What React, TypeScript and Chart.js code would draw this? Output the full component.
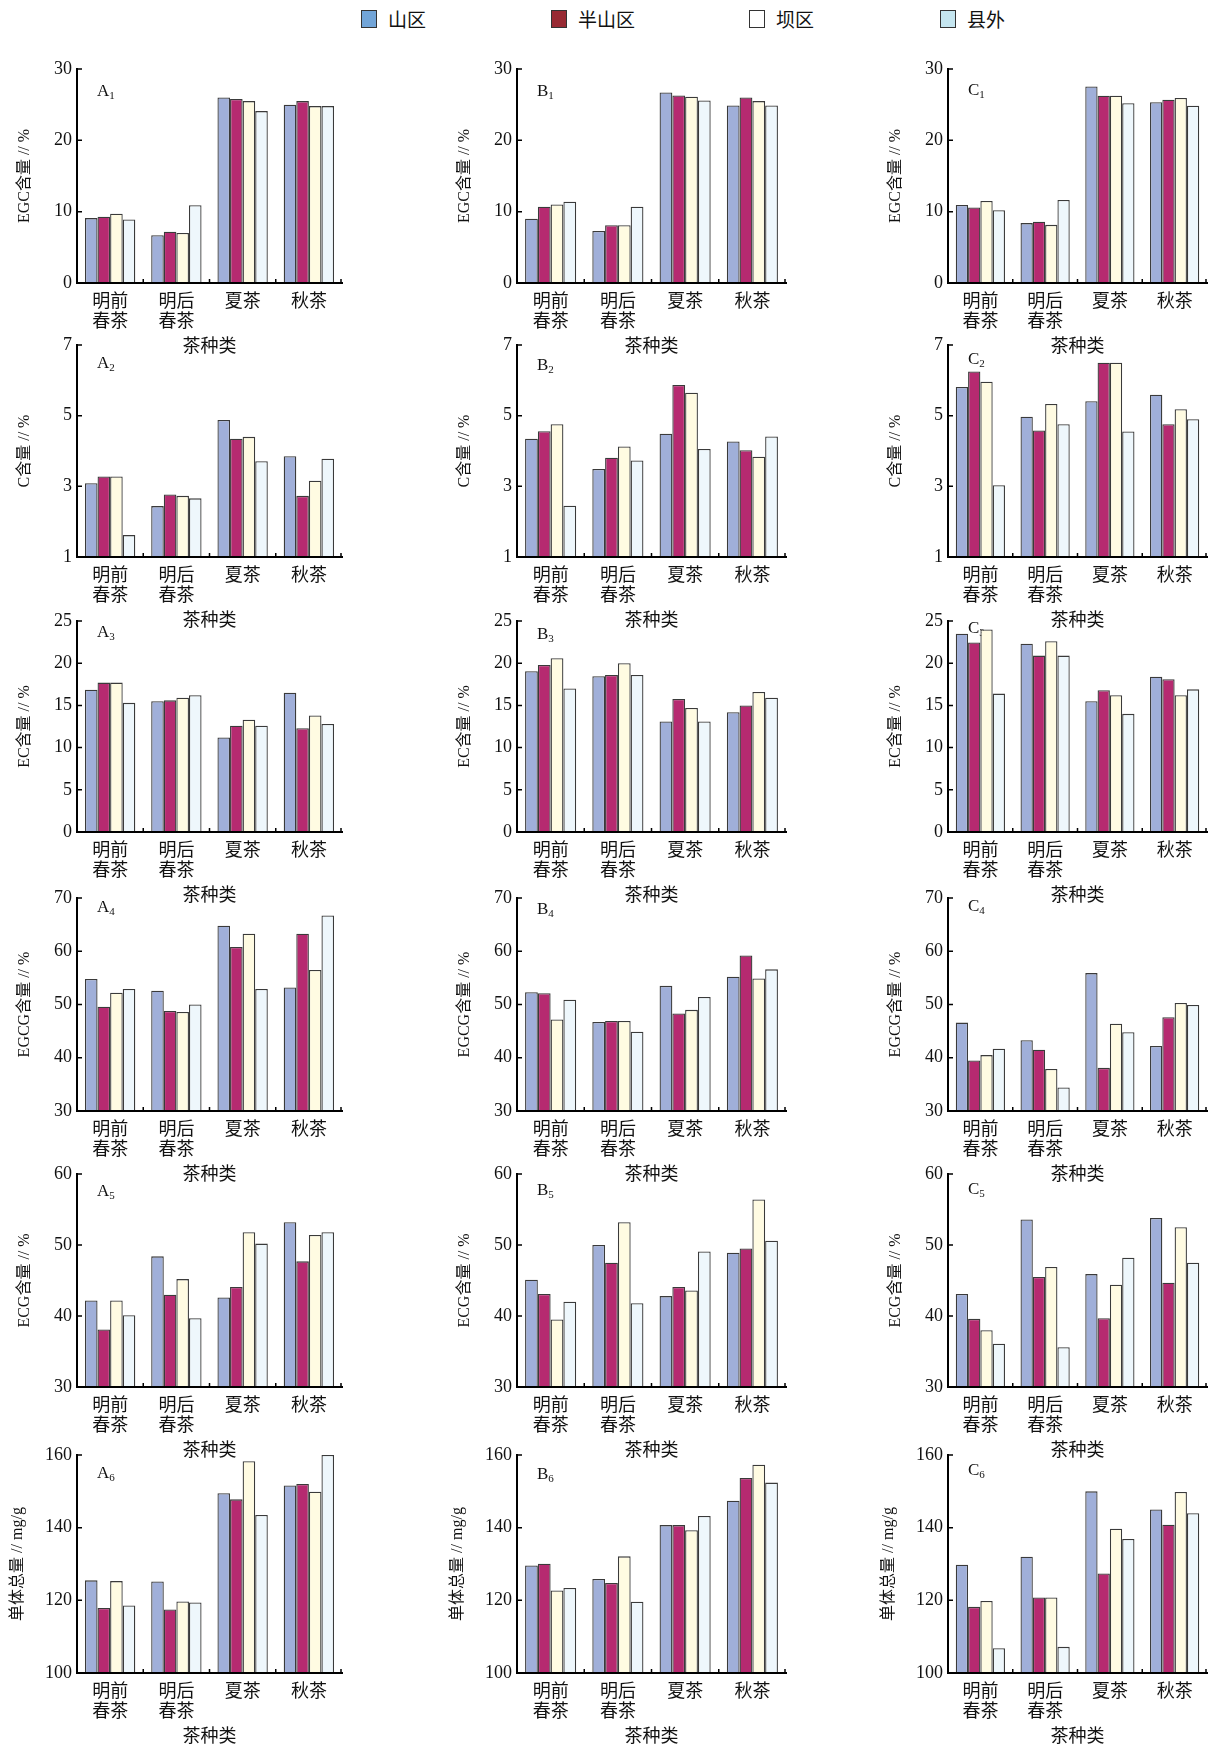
import React, { useEffect, useRef } from "react";
import { Chart, registerables } from "chart.js";

Chart.register(...registerables);

// ---------------- data ----------------
const categories: (string | string[])[] = [["明前", "春茶"], ["明后", "春茶"], "夏茶", "秋茶"];
const seriesNames = ["山区", "半山区", "坝区", "县外"];
const xAxisTitle = "茶种类";
const yTitles = ["EGC含量 // %", "C含量 // %", "EC含量 // %", "EGCG含量 // %", "ECG含量 // %", "单体总量 // mg/g"];
const yMins = [0, 1, 0, 30, 30, 100];
const yMaxs = [30, 7, 25, 70, 60, 160];
const ySteps = [10, 2, 5, 10, 10, 20];
const panelLetters = ["A", "B", "C"];

// each panel: rows = 山区, 半山区, 坝区, 县外 ; columns = categories
const A1 = [[9.1, 6.7, 26.0, 25.0], [9.3, 7.2, 25.8, 25.5], [9.7, 7.0, 25.5, 24.8], [8.9, 10.9, 24.1, 24.8]];
const A2 = [[3.09, 2.44, 4.88, 3.85], [3.28, 2.77, 4.35, 2.73], [3.28, 2.73, 4.4, 3.16], [1.62, 2.66, 3.71, 3.78]];
const A3 = [[16.85, 15.5, 11.2, 16.5], [17.7, 15.6, 12.6, 12.3], [17.7, 15.9, 13.3, 13.8], [15.3, 16.2, 12.6, 12.8]];
const A4 = [[54.8, 52.6, 64.8, 53.2], [49.6, 48.8, 60.8, 63.3], [52.2, 48.6, 63.3, 56.5], [52.9, 50.0, 52.9, 66.7]];
const A5 = [[42.2, 48.4, 42.6, 53.2], [38.1, 43.0, 44.1, 47.7], [42.2, 45.2, 51.8, 51.4], [40.1, 39.7, 50.2, 51.8]];
const A6 = [[125.5, 125.2, 149.5, 151.6], [117.9, 117.5, 147.8, 152.0], [125.3, 119.7, 158.3, 149.9], [118.6, 119.4, 143.5, 160.0]];

const B1 = [[9.0, 7.3, 26.7, 24.9], [10.7, 8.1, 26.3, 26.0], [11.0, 8.1, 26.1, 25.5], [11.4, 10.7, 25.6, 24.9]];
const B2 = [[4.35, 3.49, 4.49, 4.27], [4.56, 3.81, 5.87, 4.02], [4.76, 4.13, 5.65, 3.84], [2.45, 3.73, 4.06, 4.41]];
const B3 = [[19.05, 18.45, 13.1, 14.2], [19.8, 18.6, 15.75, 15.0], [20.6, 20.0, 14.7, 16.6], [17.0, 18.6, 13.1, 15.9]];
const B4 = [[52.3, 46.7, 53.5, 55.2], [52.1, 46.9, 48.3, 59.2], [47.2, 46.9, 49.0, 54.9], [50.9, 44.9, 51.4, 56.6]];
const B5 = [[45.1, 50.0, 42.8, 48.9], [43.1, 47.5, 44.1, 49.5], [39.5, 53.2, 43.6, 56.4], [42.0, 41.8, 49.1, 50.6]];
const B6 = [[129.6, 125.9, 140.7, 147.4], [130.1, 124.8, 140.7, 153.7], [122.7, 132.1, 139.3, 157.3], [123.4, 119.6, 143.2, 152.4]];

const C1 = [[10.95, 8.4, 27.55, 25.35], [10.6, 8.6, 26.25, 25.7], [11.5, 8.15, 26.25, 25.95], [10.2, 11.65, 25.2, 24.85]];
const C2 = [[5.81, 4.97, 5.41, 5.59], [6.25, 4.58, 6.5, 4.76], [5.96, 5.33, 6.5, 5.18], [3.03, 4.76, 4.55, 4.9]];
const C3 = [[23.5, 22.3, 15.5, 18.4], [22.45, 20.9, 16.8, 18.1], [24.0, 22.6, 16.2, 16.2], [16.4, 20.9, 14.0, 16.9]];
const C4 = [[46.6, 43.3, 55.9, 42.2], [39.5, 41.5, 38.1, 47.6], [40.5, 37.9, 46.4, 50.3], [41.7, 34.4, 44.8, 49.9]];
const C5 = [[43.1, 53.6, 45.9, 53.8], [39.6, 45.5, 39.7, 44.7], [38.0, 46.9, 44.4, 52.5], [36.1, 35.6, 48.2, 47.5]];
const C6 = [[129.8, 132.0, 150.0, 145.0], [118.2, 120.8, 127.4, 140.8], [119.8, 120.8, 139.7, 149.8], [106.8, 107.2, 136.9, 144.0]];

const panelData = [
  [A1, B1, C1],
  [A2, B2, C2],
  [A3, B3, C3],
  [A4, B4, C4],
  [A5, B5, C5],
  [A6, B6, C6],
];

// ---------------- styles / layout ----------------
const barColors = ["#A0AFD9", "#B62A70", "#FFFBE2", "#EEF7FC"];
const legendColors = ["#72A5D8", "#982A33", "#FFFFFF", "#C5E6F0"];
const legendX = [361, 551, 749, 940];
const COLS = [
  { left: 77, right: 342 },
  { left: 517, right: 786 },
  { left: 948, right: 1207 },
];
const ROWS = [
  { top: 69, bottom: 283 },
  { top: 345, bottom: 557 },
  { top: 621, bottom: 832 },
  { top: 898, bottom: 1111 },
  { top: 1174, bottom: 1387 },
  { top: 1455, bottom: 1673 },
];
const Y_W = 77;
const PAD_T = 30;
const PAD_R = 10;
const PAD_B = 2;
const X_H = 73;
const titleDx = [52, 52, 52, 52, 52, 59];
const labelDy = [
  [27, 27, 26],
  [23, 25, 19],
  [16, 18, 12],
  [14, 16, 13],
  [22, 21, 20],
  [23, 24, 20],
];
const serif = '"Liberation Serif", "Noto Sans CJK SC", serif';
const cjk = '"Noto Sans CJK SC", "Liberation Serif", sans-serif';

const innerTicks = {
  id: "innerTicks",
  afterDraw(chart: any) {
    const { ctx, chartArea, scales } = chart;
    const xs = scales.x;
    const ys = scales.y;
    ctx.save();
    ctx.strokeStyle = "#000";
    ctx.lineWidth = 1.5;
    ctx.beginPath();
    ys.ticks.forEach((t: any) => {
      const py = ys.getPixelForValue(t.value);
      ctx.moveTo(chartArea.left, py);
      ctx.lineTo(chartArea.left + 5, py);
    });
    const n = xs.ticks.length;
    for (let i = 0; i < n; i++) {
      const px = i < n - 1 ? (xs.getPixelForValue(i) + xs.getPixelForValue(i + 1)) / 2 : chartArea.right - 1;
      ctx.moveTo(px, chartArea.bottom);
      ctx.lineTo(px, chartArea.bottom - 4);
    }
    ctx.stroke();
    ctx.restore();
  },
};

function makeLabelPlugin(letter: string, idx: number, dy: number) {
  return {
    id: "panelLabel",
    beforeDatasetsDraw(chart: any) {
      const { ctx, chartArea } = chart;
      ctx.save();
      ctx.fillStyle = "#111";
      ctx.textAlign = "left";
      ctx.textBaseline = "alphabetic";
      ctx.font = `17px ${serif}`;
      const x = chartArea.left + 20;
      const y = chartArea.top + dy;
      ctx.fillText(letter, x, y);
      const w = ctx.measureText(letter).width;
      ctx.font = `11px ${serif}`;
      ctx.fillText(String(idx), x + w, y + 3);
      ctx.restore();
    },
  };
}

function Panel({ row, col }: { row: number; col: number }) {
  const ref = useRef<HTMLCanvasElement>(null);
  const c = COLS[col];
  const r = ROWS[row];
  const w = Y_W + (c.right - c.left) + PAD_R;
  const h = PAD_T + (r.bottom - r.top) + X_H + PAD_B;

  useEffect(() => {
    const data = panelData[row][col];
    const titleLH = 16 * 1.2;
    const chart = new Chart(ref.current as HTMLCanvasElement, {
      type: "bar",
      data: {
        labels: categories as any,
        datasets: seriesNames.map((name, i) => ({
          label: name,
          data: data[i],
          backgroundColor: barColors[i],
          borderColor: "#3a3a3a",
          borderWidth: 1.3,
          borderSkipped: "start",
          categoryPercentage: 0.76,
          barPercentage: 1,
        })),
      },
      options: {
        responsive: false,
        animation: false,
        devicePixelRatio: 1,
        layout: { padding: { left: 0, top: PAD_T, right: PAD_R, bottom: PAD_B } },
        plugins: { legend: { display: false }, tooltip: { enabled: false } },
        scales: {
          x: {
            grid: { display: false, drawTicks: false },
            border: { display: true, color: "#000", width: 2, z: 1 },
            ticks: {
              color: "#111",
              padding: 7,
              maxRotation: 0,
              autoSkip: false,
              font: { family: cjk, size: 18, lineHeight: 1.1 },
            },
            title: {
              display: true,
              text: xAxisTitle,
              color: "#111",
              padding: { top: 0, bottom: 0 },
              font: { family: cjk, size: 18, lineHeight: 1.2 },
            },
            afterFit: (s: any) => {
              s.height = X_H;
            },
          },
          y: {
            min: yMins[row],
            max: yMaxs[row],
            grid: { display: false, drawTicks: false },
            border: { display: true, color: "#000", width: 2, z: 1 },
            ticks: {
              stepSize: ySteps[row],
              color: "#111",
              padding: 5,
              font: { family: serif, size: 18 },
            },
            title: {
              display: true,
              text: yTitles[row],
              color: "#111",
              padding: { top: Y_W - titleDx[row] - titleLH / 2, bottom: 0 },
              font: { family: serif, size: 16, lineHeight: 1.2 },
            },
            afterFit: (s: any) => {
              s.width = Y_W;
            },
          },
        },
      } as any,
      plugins: [innerTicks, makeLabelPlugin(panelLetters[col], row + 1, labelDy[row][col])],
    });
    return () => chart.destroy();
  }, [row, col]);

  return (
    <canvas
      ref={ref}
      width={w}
      height={h}
      style={{ position: "absolute", left: c.left - Y_W, top: r.top - PAD_T, width: w, height: h }}
    />
  );
}

export default function App() {
  return (
    <div
      style={{
        position: "absolute",
        left: 0,
        top: 0,
        width: 1217,
        height: 1752,
        background: "#ffffff",
        overflow: "hidden",
      }}
    >
      {seriesNames.map((name, i) => (
        <div key={name}>
          <div
            style={{
              position: "absolute",
              left: legendX[i],
              top: 10,
              width: 14,
              height: 16,
              background: legendColors[i],
              border: "1.5px solid #333",
            }}
          />
          <div
            style={{
              position: "absolute",
              left: legendX[i] + 27,
              top: 6,
              fontFamily: cjk,
              fontSize: 19,
              lineHeight: "26px",
              color: "#111",
              whiteSpace: "nowrap",
            }}
          >
            {name}
          </div>
        </div>
      ))}
      {ROWS.map((_, ri) => COLS.map((__, ci) => <Panel key={`${ri}-${ci}`} row={ri} col={ci} />))}
    </div>
  );
}
